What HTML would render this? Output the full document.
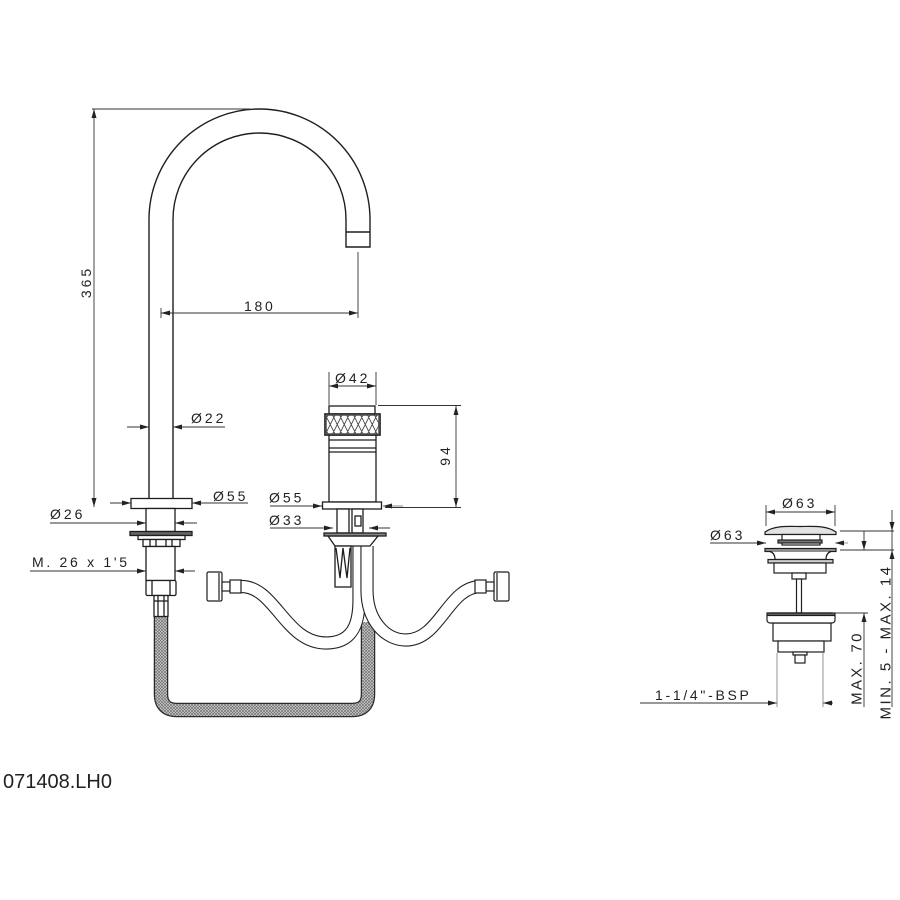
<!DOCTYPE html>
<html><head><meta charset="utf-8"><style>
html,body{margin:0;padding:0;background:#fff;}
svg{display:block;}
text{font-family:"Liberation Sans",Arial,sans-serif;fill:#222;}
</style></head><body>
<svg width="900" height="900" viewBox="0 0 900 900" xmlns="http://www.w3.org/2000/svg">
<defs>
<pattern id="br" width="3" height="3" patternUnits="userSpaceOnUse"><rect width="3" height="3" fill="#d2d2d2"/><path d="M0,0L3,3M3,0L0,3" stroke="#707070" stroke-width="0.7"/></pattern>
<clipPath id="kc"><rect x="326" y="415" width="53" height="19"/></clipPath>
</defs>
<rect width="900" height="900" fill="#fff"/>

<!-- ===== SPOUT ===== -->
<g fill="none" stroke="#1e1e1e" stroke-width="1.4">
<path d="M149,498 L149,219.5 A110.5,110.5 0 0 1 370,219.5 L370,247 L346,247 L346,219.5 A86.5,86.5 0 0 0 173,219.5 L173,498"/>
<line x1="346" y1="232" x2="370" y2="232"/>
</g>

<!-- braided hose -->
<path d="M161,617 L161,694 Q161,710 177,710 L352,710 Q368,710 368,694 L368,622" fill="none" stroke="#2a2a2a" stroke-width="14.5"/>
<path d="M161,617 L161,694 Q161,710 177,710 L352,710 Q368,710 368,694 L368,622" fill="none" stroke="url(#br)" stroke-width="12"/>

<!-- flexible hoses -->
<g fill="none">
<path d="M241,586.5 C275,586 285,643 326,643 C352,643 359,625 359,600 L359,546" stroke="#222" stroke-width="13.2"/>
<path d="M241,586.5 C275,586 285,643 326,643 C352,643 359,625 359,600 L359,546" stroke="#fff" stroke-width="11"/>
<path d="M367,546 L367,590 C367,620 385,640 406,640 C440,640 448,586.5 481,586.5" stroke="#222" stroke-width="13.2"/>
<path d="M367,546 L367,590 C367,620 385,640 406,640 C440,640 448,586.5 481,586.5" stroke="#fff" stroke-width="11"/>
</g>

<!-- hose connectors -->
<g fill="#fff" stroke="#1e1e1e" stroke-width="1.2">
<rect x="207" y="572" width="15" height="29" rx="1.5"/>
<line x1="219" y1="573" x2="219" y2="600"/>
<rect x="222" y="582" width="8" height="9"/>
<rect x="230" y="580" width="11" height="13"/>
<rect x="494" y="572" width="15" height="29" rx="1.5"/>
<line x1="497" y1="573" x2="497" y2="600"/>
<rect x="486" y="582" width="8" height="9"/>
<rect x="475" y="580" width="11" height="13"/>
</g>

<!-- spout base -->
<g fill="#fff" stroke="#1e1e1e" stroke-width="1.3">
<rect x="131" y="498.5" width="61" height="10"/>
<rect x="146" y="508.5" width="29" height="23"/>
<rect x="130" y="531.5" width="62" height="4" fill="#666"/>
<rect x="138" y="535.5" width="47" height="4"/>
<rect x="143" y="539.5" width="37" height="7"/>
<line x1="150" y1="540" x2="150" y2="546"/>
<line x1="156" y1="540" x2="156" y2="546"/>
<line x1="166" y1="540" x2="166" y2="546"/>
<line x1="172" y1="540" x2="172" y2="546"/>
<rect x="146" y="546.5" width="29" height="34"/>
<rect x="146" y="580.5" width="30" height="15" rx="1.5"/>
<line x1="152" y1="581" x2="152" y2="595"/>
<line x1="170" y1="581" x2="170" y2="595"/>
<rect x="154" y="595.5" width="14" height="21"/>
<line x1="154" y1="601" x2="168" y2="601"/>
<line x1="158" y1="596" x2="158" y2="616"/>
<line x1="164" y1="596" x2="164" y2="616"/>
</g>

<!-- ===== HANDLE VALVE ===== -->
<g fill="#fff" stroke="#1e1e1e" stroke-width="1.3">
<rect x="329" y="406" width="46" height="8"/>
<rect x="329" y="435" width="47" height="67"/>
<line x1="329" y1="440" x2="376" y2="440"/>
<line x1="329" y1="448" x2="376" y2="448"/>
<line x1="329" y1="452" x2="376" y2="452"/>
<rect x="325" y="414" width="55" height="21" fill="#fff"/>
</g>
<g clip-path="url(#kc)" stroke="#333" stroke-width="0.8" fill="none">
<path d="M311,414L321.5,435M318,414L328.5,435M325,414L335.5,435M332,414L342.5,435M339,414L349.5,435M346,414L356.5,435M353,414L363.5,435M360,414L370.5,435M367,414L377.5,435M374,414L384.5,435
M321.5,414L311,435M328.5,414L318,435M335.5,414L325,435M342.5,414L332,435M349.5,414L339,435M356.5,414L346,435M363.5,414L353,435M370.5,414L360,435M377.5,414L367,435M384.5,414L374,435M391.5,414L381,435"/>
</g>
<rect x="325" y="414" width="55" height="21" fill="none" stroke="#1e1e1e" stroke-width="1.5"/>
<rect x="326.5" y="415.5" width="52" height="18" fill="none" stroke="#444" stroke-width="0.7"/>
<g fill="#fff" stroke="#1e1e1e" stroke-width="1.3">
<rect x="322.5" y="502" width="59" height="7"/>
<rect x="337" y="509" width="12" height="24"/>
<rect x="352" y="509" width="11" height="24"/>
<rect x="355" y="516" width="6" height="10"/>
<polygon points="328,536 378,536 370,546 335,546"/>
<rect x="324" y="533" width="62" height="3" fill="#888"/>
<rect x="335" y="546" width="16" height="41"/>
<path d="M336,548 L340,578 L343,548 L347,578 L350,548" fill="none"/>
</g>

<!-- ===== DRAIN ===== -->
<g fill="#fff" stroke="#1e1e1e" stroke-width="1.2">
<path d="M765,532 C775,525 790,526.5 800.5,526.5 C811,526.5 826,525 836,532 L836,534.5 L765,534.5 Z" fill="#e2e2e2"/>
<rect x="782" y="534.5" width="38" height="10.5"/>
<rect x="778" y="540" width="44" height="3" fill="#777"/>
<rect x="765" y="548.5" width="71" height="3" fill="#999"/>
<path d="M770,551.5 Q775,553 775,559.5 L826,559.5 Q826,553 831,551.5"/>
<rect x="768" y="559.5" width="65" height="3.5" fill="#ccc"/>
<rect x="774" y="563" width="52" height="10"/>
<rect x="792" y="573" width="14" height="6"/>
<rect x="796.5" y="579" width="5" height="34"/>
<rect x="773" y="623" width="58" height="18"/>
<rect x="767" y="613" width="68" height="10" rx="3"/>
<rect x="767" y="613" width="68" height="2.5" fill="#666"/>
<rect x="778" y="641" width="46" height="11"/>
<rect x="793" y="652" width="14" height="3"/>
<rect x="795" y="655" width="10" height="8"/>
</g>

<!-- ===== DIMENSION LINES ===== -->
<g stroke="#333" stroke-width="0.9" fill="none">
<line x1="94" y1="109" x2="94" y2="507"/>
<line x1="92" y1="109" x2="250" y2="109"/>
<line x1="161" y1="313" x2="358" y2="313"/>
<line x1="161" y1="308" x2="161" y2="318"/>
<line x1="358" y1="252" x2="358" y2="318"/>
<line x1="127" y1="427" x2="149" y2="427"/>
<line x1="173" y1="427" x2="225" y2="427"/>
<line x1="110" y1="503" x2="131" y2="503"/>
<line x1="192" y1="503" x2="248" y2="503"/>
<line x1="50" y1="523" x2="146" y2="523"/>
<line x1="175" y1="523" x2="197" y2="523"/>
<line x1="30" y1="571" x2="146" y2="571"/>
<line x1="175" y1="571" x2="195" y2="571"/>
<line x1="329" y1="386" x2="376" y2="386"/>
<line x1="329" y1="372" x2="329" y2="405"/>
<line x1="376" y1="372" x2="376" y2="405"/>
<line x1="456" y1="406" x2="456" y2="507"/>
<line x1="378" y1="405.5" x2="461" y2="405.5"/>
<line x1="385" y1="507.5" x2="461" y2="507.5"/>
<line x1="270" y1="506" x2="322" y2="506"/>
<line x1="383" y1="506" x2="403" y2="506" stroke="#888"/>
<line x1="270" y1="528" x2="333" y2="528"/>
<line x1="369" y1="528" x2="390" y2="528"/>
<line x1="766" y1="512" x2="835" y2="512"/>
<line x1="766" y1="505" x2="766" y2="526"/>
<line x1="835" y1="505" x2="835" y2="526"/>
<line x1="710" y1="543" x2="766" y2="543"/>
<line x1="835" y1="543" x2="848" y2="543" stroke="#888"/>
<line x1="840" y1="531" x2="894" y2="531"/>
<line x1="840" y1="550" x2="894" y2="550"/>
<line x1="833" y1="613" x2="868" y2="613"/>
<line x1="864" y1="531" x2="864" y2="550"/>
<line x1="864" y1="613" x2="864" y2="707"/>
<line x1="892" y1="510" x2="892" y2="707"/>
<line x1="640" y1="703" x2="777" y2="703"/>
<line x1="823" y1="703" x2="833" y2="703"/>
<line x1="777" y1="653" x2="777" y2="707" stroke="#888"/>
<line x1="823" y1="653" x2="823" y2="707" stroke="#888"/>
</g>

<!-- arrowheads -->
<g fill="#222" stroke="none">
<polygon points="94,109 91.5,118 96.5,118"/>
<polygon points="94,507 91.5,498 96.5,498"/>
<polygon points="161,313 170,310.5 170,315.5"/>
<polygon points="358,313 349,310.5 349,315.5"/>
<polygon points="149,427 140,424.5 140,429.5"/>
<polygon points="173,427 182,424.5 182,429.5"/>
<polygon points="131,503 122,500.5 122,505.5"/>
<polygon points="192,503 201,500.5 201,505.5"/>
<polygon points="146,523 137,520.5 137,525.5"/>
<polygon points="175,523 184,520.5 184,525.5"/>
<polygon points="146,571 137,568.5 137,573.5"/>
<polygon points="175,571 184,568.5 184,573.5"/>
<polygon points="329,386 338,383.5 338,388.5"/>
<polygon points="376,386 367,383.5 367,388.5"/>
<polygon points="456,406 453.5,415 458.5,415"/>
<polygon points="456,507 453.5,498 458.5,498"/>
<polygon points="322,506 313,503.5 313,508.5"/>
<polygon points="383,506 392,503.5 392,508.5"/>
<polygon points="333,528 324,525.5 324,530.5"/>
<polygon points="369,528 378,525.5 378,530.5"/>
<polygon points="766,512 775,509.5 775,514.5"/>
<polygon points="835,512 826,509.5 826,514.5"/>
<polygon points="766,543 757,540.5 757,545.5"/>
<polygon points="835,543 844,540.5 844,545.5"/>
<polygon points="864,550 861.5,541 866.5,541"/>
<polygon points="864,613 861.5,622 866.5,622"/>
<polygon points="892,531 889.5,522 894.5,522"/>
<polygon points="892,550 889.5,559 894.5,559"/>
<polygon points="777,703 768,700.5 768,705.5"/>
<polygon points="823,703 832,700.5 832,705.5"/>
</g>

<!-- ===== TEXT ===== -->
<g font-size="14" letter-spacing="3">
<text x="335" y="383">Ø42</text>
<text x="269" y="502.5">Ø55</text>
<text x="269" y="525">Ø33</text>
<text x="244" y="311" letter-spacing="2.7">180</text>
<text x="191" y="423">Ø22</text>
<text x="213" y="501">Ø55</text>
<text x="50" y="519">Ø26</text>
<text x="32" y="567" letter-spacing="2.7">M. 26 x 1'5</text>
<text x="782" y="508">Ø63</text>
<text x="710" y="540">Ø63</text>
<text x="655" y="700" letter-spacing="2.7">1-1/4"-BSP</text>
<text transform="translate(91,282) rotate(-90)" text-anchor="middle">365</text>
<text transform="translate(450,455) rotate(-90)" text-anchor="middle">94</text>
</g>
<text transform="translate(861.5,668) rotate(-90)" text-anchor="middle" font-size="15" letter-spacing="2.3">MAX. 70</text>
<text transform="translate(890.5,642) rotate(-90)" text-anchor="middle" font-size="15" letter-spacing="2.5">MIN. 5 - MAX. 14</text>
<text x="3" y="788" font-size="20">071408.LH0</text>
</svg>
</body></html>
